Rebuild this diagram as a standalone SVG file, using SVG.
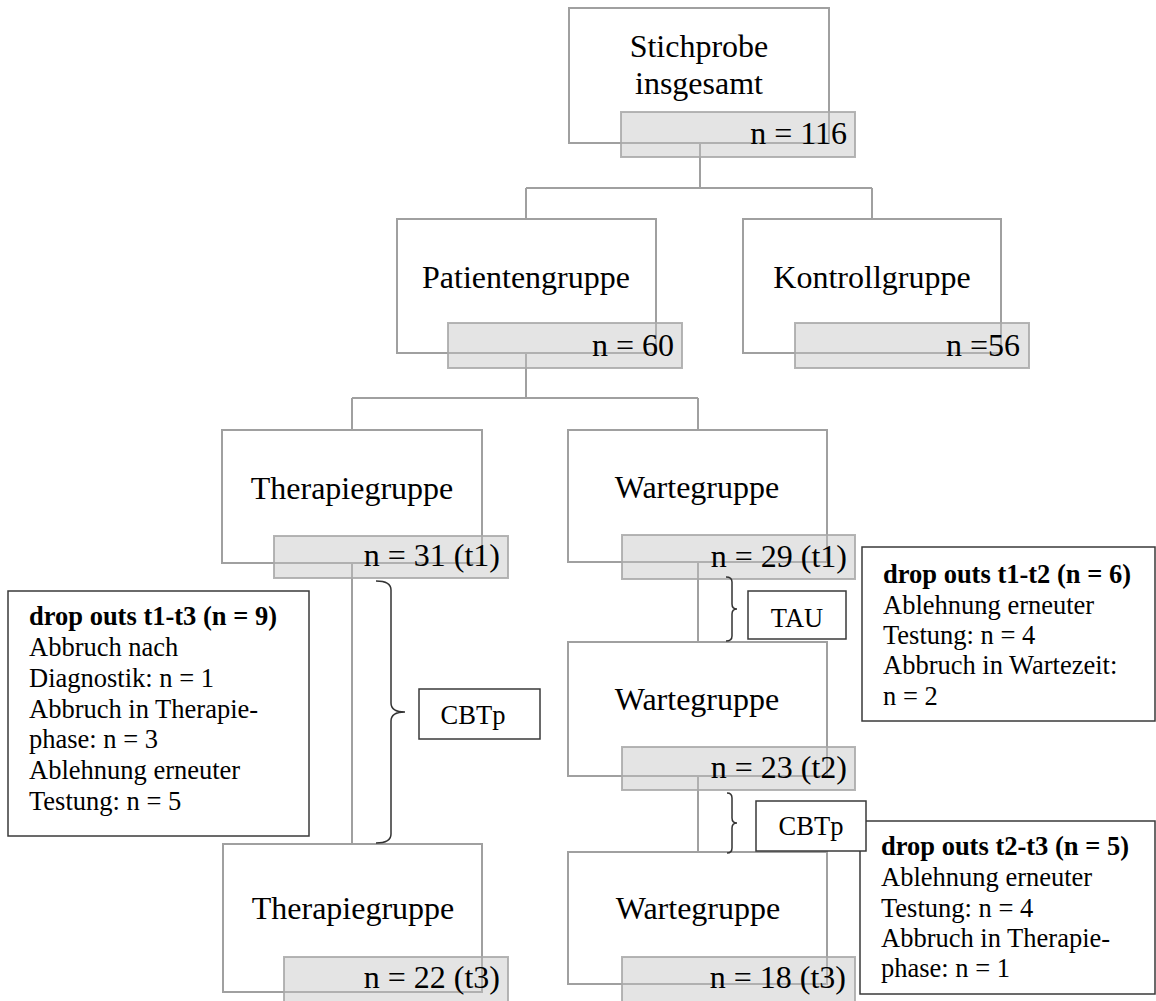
<svg xmlns="http://www.w3.org/2000/svg" width="1156" height="1001" viewBox="0 0 1156 1001">
<style>
.box{fill:#fff;stroke:#a0a0a0;stroke-width:2}
.nbox{fill:#c4c4c4;fill-opacity:0.45;stroke:#a8a8a8;stroke-opacity:0.85;stroke-width:2}
.lbl{font-family:"Liberation Serif","Times New Roman",serif;font-size:32px;fill:#000}
.cnt{font-family:"Liberation Serif","Times New Roman",serif;font-size:32px;fill:#000;text-anchor:end}
.ann{fill:#fff;stroke:#3a3a3a;stroke-width:1.5}
.at{font-family:"Liberation Serif","Times New Roman",serif;font-size:26.5px;fill:#000}
.b{font-weight:bold}
.con{fill:none;stroke:#a0a0a0;stroke-width:2}
.brace{fill:none;stroke:#333;stroke-width:1.5}
</style>
<rect width="1156" height="1001" fill="#fff"/>
<g id="connectors">
<path class="con" d="M700,143 V188 M526,188 H872 M526,188 V219 M872,188 V219"/>
<path class="con" d="M526,353 V398 M352,398 H698 M352,398 V430 M698,398 V430"/>
<path class="con" d="M352,563 V844"/>
<path class="con" d="M698,562 V642"/>
<path class="con" d="M698,776 V852"/>
</g>
<g id="node-stichprobe">
<rect class="box" x="569" y="8" width="260" height="135"/>
<text class="lbl" x="699" y="57" text-anchor="middle">Stichprobe</text>
<text class="lbl" x="699" y="94" text-anchor="middle">insgesamt</text>
<rect class="nbox" x="621" y="112" width="234" height="45"/>
<text class="cnt" x="847" y="144">n = 116</text>
</g>
<g id="node-patienten">
<rect class="box" x="397" y="219" width="259" height="134"/>
<text class="lbl" x="526" y="288" text-anchor="middle">Patientengruppe</text>
<rect class="nbox" x="448" y="323" width="234" height="45"/>
<text class="cnt" x="674" y="356">n = 60</text>
</g>
<g id="node-kontroll">
<rect class="box" x="743" y="219" width="258" height="134"/>
<text class="lbl" x="872" y="288" text-anchor="middle">Kontrollgruppe</text>
<rect class="nbox" x="795" y="323" width="234" height="45"/>
<text class="cnt" x="1020" y="356">n =56</text>
</g>
<g id="node-therapie-t1">
<rect class="box" x="222" y="430" width="260" height="133"/>
<text class="lbl" x="352" y="499" text-anchor="middle">Therapiegruppe</text>
<rect class="nbox" x="274" y="536" width="234" height="42"/>
<text class="cnt" x="500" y="566">n = 31 (t1)</text>
</g>
<g id="node-warte-t1">
<rect class="box" x="568" y="430" width="259" height="132"/>
<text class="lbl" x="697" y="498" text-anchor="middle">Wartegruppe</text>
<rect class="nbox" x="622" y="535" width="233" height="44"/>
<text class="cnt" x="847" y="567">n = 29 (t1)</text>
</g>
<g id="node-warte-t2">
<rect class="box" x="568" y="642" width="259" height="134"/>
<text class="lbl" x="697" y="710" text-anchor="middle">Wartegruppe</text>
<rect class="nbox" x="622" y="747" width="233" height="43"/>
<text class="cnt" x="847" y="778">n = 23 (t2)</text>
</g>
<g id="node-therapie-t3">
<rect class="box" x="223" y="844" width="259" height="148"/>
<text class="lbl" x="353" y="919" text-anchor="middle">Therapiegruppe</text>
<rect class="nbox" x="284" y="957" width="224" height="55"/>
<text class="cnt" x="500" y="988">n = 22 (t3)</text>
</g>
<g id="node-warte-t3">
<rect class="box" x="568" y="852" width="259" height="132"/>
<text class="lbl" x="698" y="919" text-anchor="middle">Wartegruppe</text>
<rect class="nbox" x="622" y="957" width="233" height="55"/>
<text class="cnt" x="846" y="988">n = 18 (t3)</text>
</g>
<g id="dropouts-t1-t3">
<rect class="ann" x="8" y="591" width="301" height="245"/>
<text class="at"><tspan class="b" x="29" y="625">drop outs t1-t3 (n = 9)</tspan><tspan x="29" y="656">Abbruch nach</tspan><tspan x="29" y="687">Diagnostik: n = 1</tspan><tspan x="29" y="718">Abbruch in Therapie-</tspan><tspan x="29" y="748">phase: n = 3</tspan><tspan x="29" y="779">Ablehnung erneuter</tspan><tspan x="29" y="810">Testung: n = 5</tspan></text>
</g>
<g id="dropouts-t1-t2">
<rect class="ann" x="862" y="547" width="293" height="174"/>
<text class="at"><tspan class="b" x="883" y="583">drop outs t1-t2 (n = 6)</tspan><tspan x="883" y="614">Ablehnung erneuter</tspan><tspan x="883" y="644">Testung: n = 4</tspan><tspan x="883" y="674">Abbruch in Wartezeit:</tspan><tspan x="883" y="705">n = 2</tspan></text>
</g>
<g id="dropouts-t2-t3">
<rect class="ann" x="860" y="821" width="295" height="173"/>
<text class="at"><tspan class="b" x="881" y="855">drop outs t2-t3 (n = 5)</tspan><tspan x="881" y="886">Ablehnung erneuter</tspan><tspan x="881" y="917">Testung: n = 4</tspan><tspan x="881" y="947">Abbruch in Therapie-</tspan><tspan x="881" y="977">phase: n = 1</tspan></text>
</g>
<g id="braces">
<path class="brace" d="M376,581 Q391,581 391,590 V703 Q391,712 405,712 Q391,712 391,721 V834 Q391,843 376,843"/>
<path class="brace" d="M726,577 Q732,577 732,582 V604 Q732,609 737,609 Q732,609 732,614 V636 Q732,641 726,641"/>
<path class="brace" d="M727,793 Q732,793 732,798 V818 Q732,823 737,823 Q732,823 732,828 V848 Q732,853 727,853"/>
</g>
<g id="label-cbtp-left">
<rect class="ann" x="419" y="689" width="121" height="50"/>
<text class="at" x="473" y="724" text-anchor="middle">CBTp</text>
</g>
<g id="label-tau">
<rect class="ann" x="748" y="591" width="98" height="48"/>
<text class="at" x="797" y="627" text-anchor="middle">TAU</text>
</g>
<g id="label-cbtp-right">
<rect class="ann" x="756" y="801" width="110" height="50"/>
<text class="at" x="811" y="835" text-anchor="middle">CBTp</text>
</g>
</svg>
